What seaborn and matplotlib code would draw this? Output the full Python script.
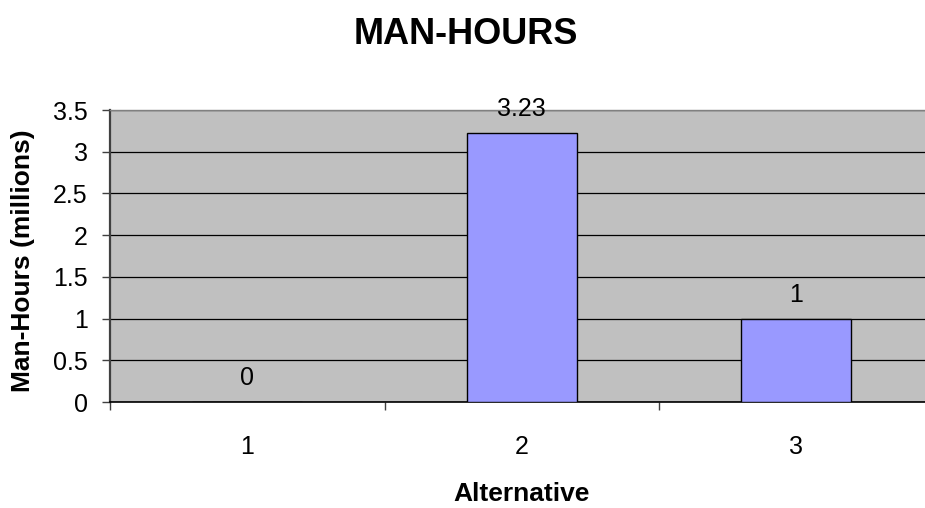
import matplotlib
matplotlib.use("Agg")
import matplotlib.pyplot as plt
import seaborn as sns
import pandas as pd

categories = ["1", "2", "3"]
values = [0, 3.23, 1]
value_labels = ["0", "3.23", "1"]
y_ticks = [0, 0.5, 1, 1.5, 2, 2.5, 3, 3.5]
y_tick_labels = ["0", "0.5", "1", "1.5", "2", "2.5", "3", "3.5"]
title = "MAN-HOURS"
x_title = "Alternative"
y_title = "Man-Hours (millions)"

sns.set_style("white")
plt.rcParams["font.family"] = ["Liberation Sans", "DejaVu Sans"]
plt.rcParams["text.color"] = "black"
plt.rcParams["xtick.color"] = "black"
plt.rcParams["ytick.color"] = "black"
plt.rcParams["axes.labelcolor"] = "black"

W, H = 925, 508
fig = plt.figure(figsize=(W / 100, H / 100), dpi=100)
ax = fig.add_axes([110 / W, (H - 402) / H, (933.5 - 110) / W, (402 - 110) / H])
ax.set_facecolor("#C0C0C0")

df = pd.DataFrame({"cat": categories, "val": values})
sns.barplot(data=df, x="cat", y="val", color="#9999FF", saturation=1,
            edgecolor="black", linewidth=1.0, width=0.4, ax=ax, zorder=3)

ax.set_xlim(-0.5, 2.5)
ax.set_ylim(0, 3.5)
ax.set_yticks(y_ticks)
ax.set_yticklabels(y_tick_labels)
ax.yaxis.grid(True, color="black", linewidth=0.9, zorder=1)
ax.xaxis.grid(False)
ax.set_axisbelow(True)

# x ticks: marks at category boundaries, labels at centers
ax.set_xticks([-0.5, 0.5, 1.5, 2.5])
ax.set_xticklabels([])
ax.set_xticks([0, 1, 2], minor=True)
ax.set_xticklabels(categories, minor=True)
ax.tick_params(axis="x", which="major", length=6, width=1, color="#404040", direction="out", bottom=True)
ax.tick_params(axis="x", which="minor", length=0, pad=24, labelsize=18, labelcolor="black")
ax.tick_params(axis="y", length=6, width=1, color="#404040", direction="out", left=True, pad=10,
               labelsize=18, labelcolor="black")

ax.set_xlabel("")
ax.set_ylabel("")

ax.spines["right"].set_visible(False)
ax.spines["top"].set_color("#808080")
ax.spines["top"].set_linewidth(1.0)
ax.spines["left"].set_color("#404040")
ax.spines["left"].set_linewidth(1.6)
ax.spines["bottom"].set_color("black")
ax.spines["bottom"].set_linewidth(1.2)

ax.bar_label(ax.containers[0], labels=value_labels, padding=8.5, fontsize=18, color="black")

fig.text(466 / W, (H - 44) / H, title, ha="center", va="baseline",
         fontsize=26, fontweight="bold", color="black")
fig.text(23 / W, (H - 260.5) / H, y_title, ha="center", va="center",
         rotation=90, fontsize=19, fontweight="bold", color="black")
fig.text(522 / W, (H - 501) / H, x_title, ha="center", va="baseline",
         fontsize=19, fontweight="bold", color="black")

fig.savefig("out.png", dpi=100)
